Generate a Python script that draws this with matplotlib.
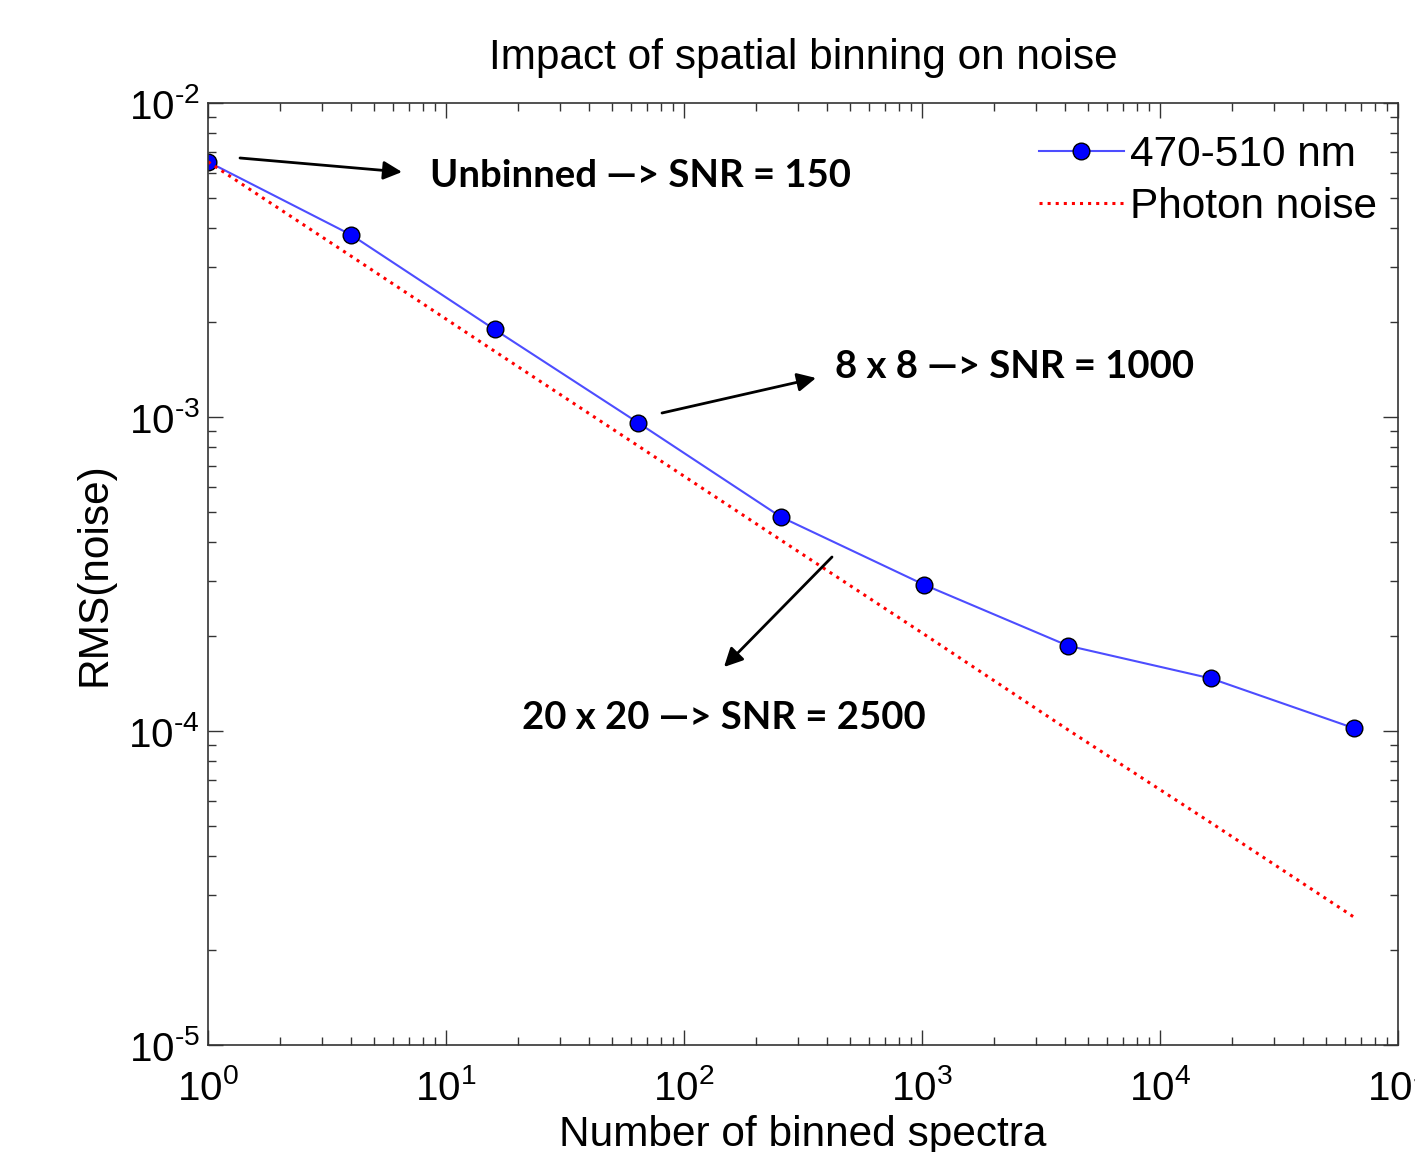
import matplotlib
matplotlib.use("Agg")
import matplotlib.pyplot as plt
from matplotlib.ticker import FuncFormatter
import math

# Data
n_binned = [1, 4, 16, 64, 256, 1024, 4096, 16384, 65536]
rms_measured = [6.5e-3, 3.8e-3, 1.9e-3, 9.6e-4, 4.8e-4, 2.92e-4, 1.87e-4, 1.47e-4, 1.02e-4]
rms_photon = [6.5e-3, 3.25e-3, 1.62e-3, 8.1e-4, 4.05e-4, 2.03e-4, 1.01e-4, 5.1e-5, 2.55e-5]
series_labels = ["470-510 nm", "Photon noise"]
annotations = ["Unbinned \u2014> SNR = 150", "8 x 8 \u2014> SNR = 1000", "20 x 20 \u2014> SNR = 2500"]

plt.rcParams['font.family'] = ['Liberation Sans', 'DejaVu Sans']
plt.rcParams['mathtext.fontset'] = 'custom'
plt.rcParams['mathtext.rm'] = 'Liberation Sans'

W, H = 1415, 1152
fig = plt.figure(figsize=(W / 100, H / 100), dpi=100)
ax = fig.add_axes([208 / W, (H - 1045) / H, (1398 - 208) / W, (1045 - 103) / H])

ax.plot(n_binned, rms_measured, '-o', color='#4d4dff', lw=1.5,
        marker='o', markersize=12, markerfacecolor='#0000ff',
        markeredgecolor='black', markeredgewidth=1.0, label=series_labels[0])
ax.plot(n_binned, rms_photon, ':', color='red', lw=2.2, label=series_labels[1])

ax.set_xscale('log')
ax.set_yscale('log')
ax.set_xlim(1, 1e5)
ax.set_ylim(1e-5, 1e-2)


def fmt(v, pos):
    e = int(round(math.log10(v)))
    if e < 0:
        return r'$\mathregular{10^{\text{-}%d}}$' % (-e)
    return r'$\mathregular{10^{%d}}$' % e


ax.xaxis.set_major_formatter(FuncFormatter(fmt))
ax.yaxis.set_major_formatter(FuncFormatter(fmt))

ax.tick_params(which='both', direction='in', top=True, right=True, labelsize=29, color='#333333')
ax.tick_params(which='major', length=11, width=1.0)
ax.tick_params(which='minor', length=6, width=1.0)
for s in ax.spines.values():
    s.set_color('#333333')
    s.set_linewidth(1.2)
ax.tick_params(axis='x', pad=17)
ax.tick_params(axis='y', pad=6)


def fx(px):
    return (px - 208) / 1190


def fy(py):
    return (1045 - py) / 942


ax.text(0.5, fy(58), "Impact of spatial binning on noise", transform=ax.transAxes,
        ha='center', va='center', fontsize=30.5)
ax.set_xlabel("Number of binned spectra", fontsize=30.5)
ax.xaxis.set_label_coords(0.5, fy(1135))
ax.xaxis.label.set_va('center')
ax.set_ylabel("RMS(noise)", fontsize=30.5)
ax.yaxis.set_label_coords(fx(95), 0.5)
ax.yaxis.label.set_va('center')

leg = ax.legend(loc='upper right', frameon=False, fontsize=30.5, handlelength=2.0,
                handletextpad=0.15, borderaxespad=0.35, labelspacing=0.28,
                bbox_to_anchor=(1.009, 1.0))

bold = dict(fontsize=27.5, fontweight='bold', family=['Lato', 'DejaVu Sans'], color='black')
arrow = dict(arrowstyle='-|>', color='black', lw=2.0, mutation_scale=28, shrinkA=0, shrinkB=0)

ax.annotate('', xy=(fx(402), fy(172)), xytext=(fx(240), fy(158)),
            xycoords='axes fraction', textcoords='axes fraction', arrowprops=arrow)
ax.text(fx(430), fy(176), annotations[0], transform=ax.transAxes, ha='left', va='center', **bold)

ax.annotate('', xy=(fx(816), fy(378)), xytext=(fx(662), fy(413)),
            xycoords='axes fraction', textcoords='axes fraction', arrowprops=arrow)
ax.text(fx(835), fy(367), annotations[1], transform=ax.transAxes, ha='left', va='center', **bold)

ax.annotate('', xy=(fx(724), fy(667)), xytext=(fx(832), fy(557)),
            xycoords='axes fraction', textcoords='axes fraction', arrowprops=arrow)
ax.text(fx(724), fy(718), annotations[2], transform=ax.transAxes, ha='center', va='center', **bold)

fig.savefig("out.png", dpi=100)
